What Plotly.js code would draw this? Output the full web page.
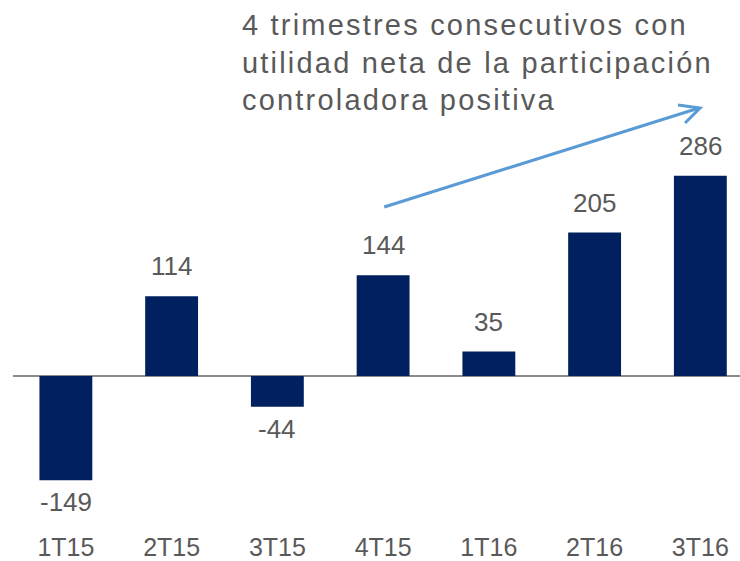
<!DOCTYPE html>
<html>
<head>
<meta charset="utf-8">
<script src="https://cdn.plot.ly/plotly-3.0.1.min.js"></script>
<style>
  html, body { margin: 0; padding: 0; background: #fff; }
  #chart { width: 740px; height: 561px; }
  #chart .annotation[data-index="7"] text { letter-spacing: 2.2px; }
</style>
</head>
<body>
<div id="chart"></div>
<script>
var trimestres = ["1T15", "2T15", "3T15", "4T15", "1T16", "2T16", "3T16"];
var utilidad = [-149, 114, -44, 144, 35, 205, 286];

var gris = "#595959";
var azul = "#00205f";

// pixel -> data helpers for the arrow (plot: left 13px, 105.8px per category, zero at y=376, 0.7px per unit)
function dx(px) { return (px - 12.6) / 105.8 - 0.5; }
function dy(py) { return (376 - py) / 0.7; }

var barras = {
    x: trimestres,
    y: utilidad,
    type: "bar",
    width: 0.5,
    marker: {color: azul},
    hoverinfo: "x+y"
};

var etiquetas = utilidad.map(function (v, i) {
    return {
        x: trimestres[i],
        y: v,
        text: String(v),
        showarrow: false,
        yanchor: "middle",
        yshift: v >= 0 ? 30 : -22,
        font: {family: "Liberation Sans, Arial, sans-serif", size: 26, color: gris}
    };
});

etiquetas.push({
    xref: "paper", yref: "paper",
    x: (240 - 13) / 727, y: 1,
    xanchor: "left", yanchor: "top",
    yshift: -7,
    align: "left",
    showarrow: false,
    text: "4 trimestres consecutivos con<br>utilidad neta de la participación<br>controladora positiva",
    font: {family: "Liberation Sans, Arial, sans-serif", size: 29, color: gris}
});

var flecha = [
    {
        type: "line", xref: "x", yref: "y",
        x0: dx(384), y0: dy(207), x1: dx(699), y1: dy(108),
        line: {color: "#5b9bd5", width: 3}
    },
    {
        type: "path", xref: "x", yref: "y",
        path: "M " + dx(678) + "," + dy(105) + " L " + dx(700) + "," + dy(108) + " L " + dx(685) + "," + dy(123),
        line: {color: "#5b9bd5", width: 3}
    }
];

var layout = {
    width: 740,
    height: 561,
    margin: {l: 13, r: 0, t: 0, b: 50},
    paper_bgcolor: "#fff",
    plot_bgcolor: "#fff",
    showlegend: false,
    bargap: 0.5,
    xaxis: {
        type: "category",
        range: [-0.5, 6.375],
        showgrid: false,
        showline: false,
        zeroline: false,
        ticks: "",
        ticklabelstandoff: 19,
        tickfont: {family: "Liberation Sans, Arial, sans-serif", size: 25, color: gris}
    },
    yaxis: {
        range: [-(511 - 376) / 0.7, 376 / 0.7],
        showgrid: false,
        showticklabels: false,
        showline: false,
        zeroline: true,
        zerolinecolor: "#8c8c8c",
        zerolinewidth: 2
    },
    annotations: etiquetas,
    shapes: flecha
};

Plotly.newPlot("chart", [barras], layout, {displayModeBar: false, staticPlot: true});
</script>
</body>
</html>
